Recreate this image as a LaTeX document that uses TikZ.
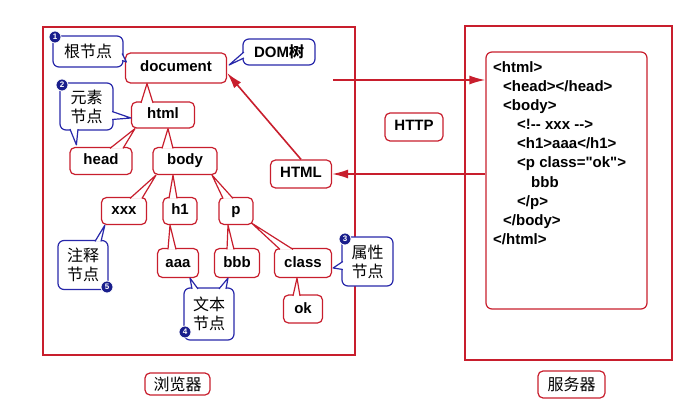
\documentclass[tikz,border=0pt]{standalone}
\usepackage{fontspec}
\setmainfont{Liberation Sans}
\newfontfamily\cjk{Noto Sans CJK SC}
\usetikzlibrary{arrows.meta}
\definecolor{domred}{RGB}{200,30,45}
\definecolor{noteblue}{RGB}{40,40,170}
\definecolor{badgeblue}{RGB}{25,30,140}

\begin{document}
\begin{tikzpicture}[x=1pt, y=-1pt,
    frame/.style={draw=domred, line width=1.6pt},
    tag/.style={draw=domred, line width=1.2pt, rounded corners=5pt, fill=white,
        font=\fontsize{15}{18}\selectfont\bfseries, inner xsep=6pt,
        text height=11pt, text depth=3pt, minimum height=27pt},
    note/.style={draw=noteblue, line width=1.2pt, rounded corners=6pt, fill=white,
        font=\fontsize{16}{19}\selectfont\cjk, align=center, inner sep=2pt},
    tie/.style={draw=domred, fill=white, line width=1.2pt, line join=round},
    tail/.style={draw=noteblue, fill=white, line width=1.2pt, line join=round},
    badge/.style={circle, fill=badgeblue, draw=white, line width=0.8pt, text=white,
        inner sep=0pt, minimum size=12pt, font=\fontsize{8}{8}\selectfont\bfseries},
    codeline/.style={anchor=base west, inner sep=0pt, font=\fontsize{15}{18}\selectfont\bfseries},
    flow/.style={draw=domred, line width=1.6pt, -{Latex[length=16pt, width=9pt]}},
    caption/.style={draw=domred, line width=1.2pt, rounded corners=5pt,
        font=\fontsize{16}{18}\selectfont\cjk, minimum height=22pt, inner xsep=4pt}
]
    \useasboundingbox (0,0) rectangle (690,403);
    % Browser and server
    \draw[frame] (43,27) rectangle (355,355);
    \draw[frame] (465,26) rectangle (672,360);
    \node[draw=domred, line width=1.2pt, rounded corners=6pt, minimum width=161pt,
        minimum height=257pt, inner sep=0pt] (page) at (566.5,180.5) {};
    \foreach \src/\ind [count=\i] in {{<html>}/0, {<head></head>}/10, {<body>}/10,
        {<!-{}- xxx -{}->}/24, {<h1>aaa</h1>}/24, {<p class=\textquotedbl ok\textquotedbl>}/24, {bbb}/38,
        {</p>}/24, {</body>}/10, {</html>}/0}
        \node[codeline] (code\i) at (493+\ind, 72.5+19.1*\i-19.1) {\src};
    % DOM tree
    \node[tag, minimum width=101pt, minimum height=30pt] (document) at (176,68) {document};
    \node[tag, minimum width=63pt, minimum height=26pt] (html) at (163,115) {html};
    \node[tag, minimum width=62pt] (head) at (101,161) {head};
    \node[tag, minimum width=64pt] (body) at (185,161) {body};
    \node[tag, minimum width=45pt] (xxx) at (124,211) {xxx};
    \node[tag, minimum width=34pt] (h1) at (180,211) {h1};
    \node[tag, minimum width=34pt] (p) at (236,211) {p};
    \node[tag, minimum width=41pt, minimum height=29pt] (aaa) at (178,263) {aaa};
    \node[tag, minimum width=45pt, minimum height=29pt] (bbb) at (237,263) {bbb};
    \node[tag, minimum width=57pt, minimum height=29pt] (class) at (303,263) {class};
    \node[tag, minimum width=39pt, minimum height=28pt] (ok) at (303,309) {ok};
    \node[tag, minimum width=61pt, minimum height=28pt] (HTML) at (301,174) {HTML};
    \node[tag, minimum width=58pt, minimum height=28pt] (HTTP) at (414,127) {HTTP};
    % Tree links
    \filldraw[tie] ([xshift=-22pt,yshift=-1.5pt]html.north) -- ([xshift=-29pt]document.south) -- ([xshift=-10pt,yshift=-1.5pt]html.north);
    \filldraw[tie] ([xshift=9pt,yshift=-1.5pt]head.north) -- ([xshift=-28pt]html.south) -- ([xshift=22pt,yshift=-1.5pt]head.north);
    \filldraw[tie] ([xshift=-23pt,yshift=-1.5pt]body.north) -- ([xshift=5pt]html.south) -- ([xshift=-12pt,yshift=-1.5pt]body.north);
    \filldraw[tie] ([xshift=6pt,yshift=-1.5pt]xxx.north) -- ([xshift=-29pt]body.south) -- ([xshift=18pt,yshift=-1.5pt]xxx.north);
    \filldraw[tie] ([xshift=-11pt,yshift=-1.5pt]h1.north) -- ([xshift=-12pt]body.south) -- ([xshift=-3pt,yshift=-1.5pt]h1.north);
    \filldraw[tie] ([xshift=-13pt,yshift=-1.5pt]p.north) -- ([xshift=27pt]body.south) -- ([xshift=-3pt,yshift=-1.5pt]p.north);
    \filldraw[tie] ([xshift=-10pt,yshift=-1.5pt]aaa.north) -- ([xshift=-10pt]h1.south) -- ([xshift=-2pt,yshift=-1.5pt]aaa.north);
    \filldraw[tie] ([xshift=-10pt,yshift=-1.5pt]bbb.north) -- ([xshift=-8pt]p.south) -- ([xshift=-3pt,yshift=-1.5pt]bbb.north);
    \filldraw[tie] ([xshift=-23pt,yshift=-1.5pt]class.north) -- ([xshift=-2pt,yshift=2pt]p.south east) -- ([xshift=-10pt,yshift=-1.5pt]class.north);
    \filldraw[tie] ([xshift=-10pt,yshift=-1.5pt]ok.north) -- ([xshift=-6pt]class.south) -- ([xshift=-3pt,yshift=-1.5pt]ok.north);
    % Notes
    \node[note, minimum width=70pt, minimum height=31pt] (rootnote) at (88,51.5) {根节点};
    \node[note, minimum width=72pt, minimum height=26pt,
        font=\fontsize{15}{19}\selectfont\bfseries] (domnote) at (279,52) {DOM{\cjk 树}};
    \node[note, minimum width=53pt, minimum height=47pt] (elemnote) at (86.5,106.5) {元素\\节点};
    \node[note, minimum width=50pt, minimum height=49pt] (commentnote) at (83,265) {注释\\节点};
    \node[note, minimum width=50pt, minimum height=52pt] (textnote) at (209,314) {文本\\节点};
    \node[note, minimum width=51pt, minimum height=49pt] (attrnote) at (367.5,261.5) {属性\\节点};
    \filldraw[tail] ([xshift=-1.5pt,yshift=-2pt]rootnote.east) -- ([xshift=1.5pt,yshift=6pt]document.west) -- ([xshift=-1.5pt,yshift=-9pt]rootnote.east);
    \filldraw[tail] ([xshift=1.5pt]domnote.west) -- ([xshift=2pt,yshift=3pt]document.east) -- ([xshift=1.5pt,yshift=-6pt]domnote.west);
    \filldraw[tail] ([xshift=-1.5pt,yshift=-5pt]elemnote.east) -- ([yshift=-3pt]html.west) -- ([xshift=-1.5pt,yshift=-13pt]elemnote.east);
    \filldraw[tail] ([xshift=-16.5pt,yshift=1.5pt]elemnote.south) -- ([xshift=7pt,yshift=2pt]head.north west) -- ([xshift=-8.5pt,yshift=1.5pt]elemnote.south);
    \filldraw[tail] ([xshift=12pt,yshift=-1.5pt]commentnote.north) -- ([xshift=4pt]xxx.south west) -- ([xshift=18pt,yshift=-1.5pt]commentnote.north);
    \filldraw[tail] ([xshift=-17pt,yshift=-1.5pt]textnote.north) -- ([xshift=12pt]aaa.south) -- ([xshift=-11pt,yshift=-1.5pt]textnote.north);
    \filldraw[tail] ([xshift=10pt,yshift=-1.5pt]textnote.north) -- ([xshift=-9pt]bbb.south) -- ([xshift=17pt,yshift=-1.5pt]textnote.north);
    \filldraw[tail] ([xshift=1.5pt]attrnote.west) -- ([xshift=1pt,yshift=-5pt]class.east) -- ([xshift=1.5pt,yshift=-8pt]attrnote.west);
    % Badges
    \node[badge] (b1) at (55,37) {1};
    \node[badge] (b2) at (62,85) {2};
    \node[badge] (b3) at (345,239) {3};
    \node[badge] (b4) at (185,332) {4};
    \node[badge] (b5) at (107,287) {5};
    % Request and response
    \coordinate (req) at (333,80);
    \draw[flow] (req) -- (req -| page.west);
    \draw[flow] (HTML.east -| page.west) -- (HTML.east);
    \draw[flow] (HTML.north) -- ([yshift=-5pt]document.east);
    % Captions
    \node[caption, minimum width=65pt] (browser) at (177.5,384) {浏览器};
    \node[caption, minimum width=67pt, minimum height=27pt] (server) at (571.5,384.5) {服务器};
\end{tikzpicture}
\end{document}
